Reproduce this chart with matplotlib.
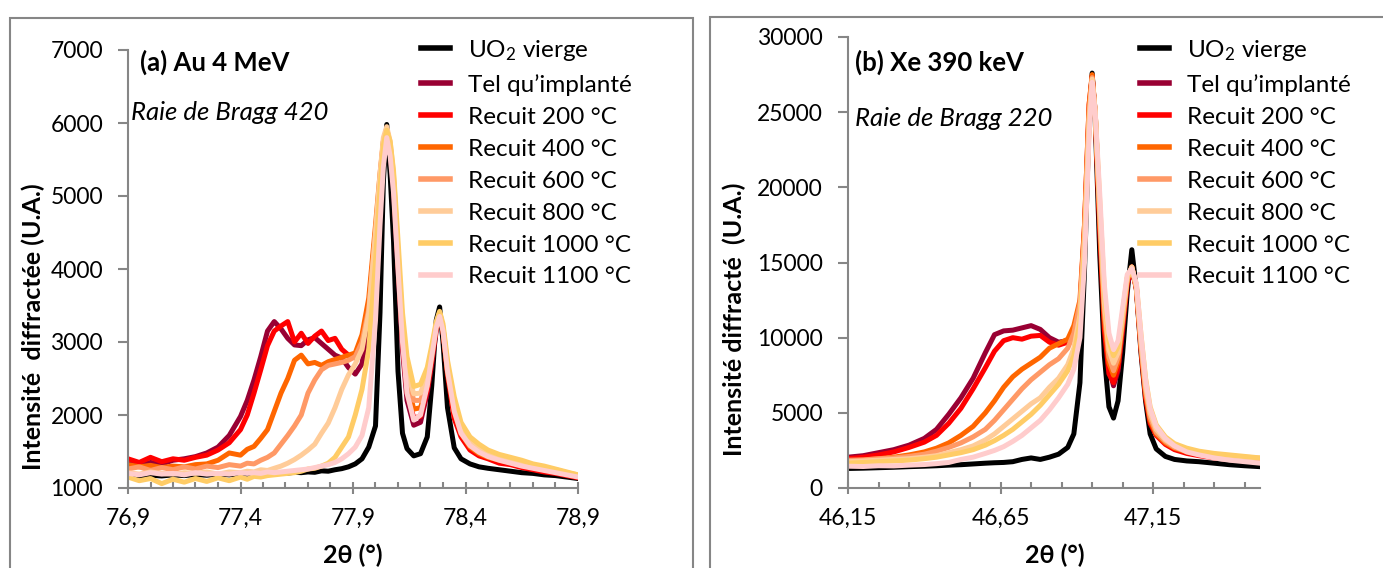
import matplotlib
matplotlib.use("Agg")
import matplotlib.pyplot as plt
from matplotlib.patches import Rectangle
import numpy as np

plt.rcParams["font.family"] = ["Lato", "DejaVu Sans"]
plt.rcParams["mathtext.fontset"] = "custom"
plt.rcParams["mathtext.rm"] = "Lato"
plt.rcParams["mathtext.it"] = "Lato:italic"

LABELS = ["UO$_2$ vierge", "Tel qu\u2019implanté", "Recuit 200 °C", "Recuit 400 °C",
          "Recuit 600 °C", "Recuit 800 °C", "Recuit 1000 °C", "Recuit 1100 °C"]
COLORS = ["#000000", "#990033", "#FF0000", "#FF6600",
          "#FF9966", "#FFCC99", "#FFCC66", "#FFCCCC"]
GREY = "#868686"

# ---- panel (a) : Au 4 MeV, raie 420 ----
theta_a = [76.90, 76.95, 77.00, 77.05, 77.10, 77.15, 77.20, 77.25, 77.30, 77.35,
           77.40, 77.43, 77.46, 77.49, 77.52, 77.55, 77.58, 77.61, 77.64, 77.67,
           77.70, 77.73, 77.76, 77.79, 77.82, 77.85, 77.88, 77.91, 77.94, 77.97,
           78.00, 78.02, 78.035, 78.05, 78.065, 78.08, 78.10, 78.12, 78.14, 78.17,
           78.20, 78.23, 78.25, 78.27, 78.285, 78.30, 78.32, 78.35, 78.38, 78.42,
           78.46, 78.50, 78.55, 78.60, 78.65, 78.70, 78.75, 78.80, 78.85, 78.90]

a_vierge = [1170, 1160, 1175, 1165, 1180, 1170, 1185, 1175, 1190, 1180,
            1195, 1190, 1200, 1195, 1205, 1200, 1210, 1205, 1215, 1210,
            1220, 1215, 1235, 1230, 1250, 1265, 1290, 1330, 1400, 1560,
            1850, 3400, 5200, 5980, 5300, 4400, 2600, 1750, 1540, 1440,
            1470, 1700, 2400, 3300, 3480, 3000, 2100, 1550, 1400, 1330,
            1290, 1270, 1250, 1230, 1210, 1200, 1180, 1170, 1150, 1130]
a_implante = [1330, 1310, 1350, 1330, 1380, 1400, 1430, 1480, 1560, 1720,
              1980, 2200, 2480, 2800, 3150, 3280, 3180, 3050, 2960, 2950,
              3030, 3060, 2980, 2900, 2820, 2780, 2650, 2560, 2700, 3300,
              4300, 5000, 5600, 5880, 5600, 5100, 4000, 2900, 2200, 1860,
              1900, 2300, 2700, 3150, 3350, 3150, 2600, 2000, 1750, 1580,
              1480, 1420, 1370, 1340, 1300, 1270, 1240, 1210, 1180, 1150]
a_r200 = [1400, 1350, 1420, 1360, 1400, 1380, 1420, 1450, 1520, 1620,
          1800, 2000, 2300, 2620, 2950, 3150, 3220, 3280, 3000, 3120,
          2980, 3080, 3150, 3020, 3050, 2900, 2820, 2780, 2900, 3500,
          4500, 5200, 5700, 5900, 5650, 5200, 4100, 3000, 2300, 1960,
          1980, 2350, 2750, 3200, 3380, 3150, 2550, 1950, 1700, 1520,
          1440, 1400, 1340, 1320, 1280, 1250, 1220, 1200, 1170, 1140]
a_r400 = [1320, 1290, 1310, 1280, 1300, 1290, 1320, 1330, 1380, 1480,
          1450, 1530, 1570, 1680, 1800, 2050, 2300, 2500, 2750, 2820,
          2700, 2720, 2680, 2730, 2760, 2790, 2820, 2850, 3100, 3600,
          4600, 5300, 5750, 5920, 5700, 5200, 4100, 3100, 2450, 2080,
          2100, 2400, 2800, 3200, 3380, 3150, 2600, 2050, 1750, 1560,
          1470, 1420, 1380, 1350, 1310, 1290, 1250, 1230, 1190, 1160]
a_r600 = [1260, 1290, 1240, 1280, 1250, 1290, 1260, 1300, 1280, 1320,
          1300, 1340, 1330, 1380, 1420, 1480, 1600, 1720, 1850, 2000,
          2300, 2480, 2620, 2680, 2700, 2720, 2750, 2800, 3000, 3450,
          4500, 5250, 5750, 5920, 5700, 5250, 4200, 3200, 2550, 2200,
          2200, 2450, 2850, 3250, 3400, 3200, 2650, 2100, 1800, 1620,
          1520, 1470, 1420, 1380, 1350, 1310, 1280, 1250, 1210, 1170]
a_r800 = [1210, 1190, 1220, 1200, 1190, 1210, 1200, 1220, 1190, 1220,
          1210, 1230, 1220, 1250, 1240, 1270, 1300, 1340, 1390, 1450,
          1520, 1600, 1750, 1890, 2100, 2350, 2550, 2700, 2900, 3400,
          4500, 5300, 5800, 5950, 5750, 5300, 4250, 3250, 2600, 2290,
          2300, 2550, 2900, 3250, 3400, 3200, 2700, 2150, 1850, 1650,
          1550, 1480, 1430, 1380, 1350, 1310, 1280, 1250, 1210, 1180]
a_r1000 = [1150, 1100, 1130, 1060, 1120, 1080, 1130, 1090, 1140, 1100,
           1150, 1120, 1160, 1150, 1170, 1180, 1190, 1200, 1210, 1230,
           1260, 1270, 1300, 1340, 1420, 1560, 1700, 2000, 2350, 2900,
           4100, 5100, 5700, 5900, 5750, 5350, 4400, 3400, 2800, 2390,
           2420, 2650, 2950, 3280, 3420, 3250, 2750, 2250, 1900, 1700,
           1600, 1520, 1460, 1420, 1380, 1330, 1300, 1260, 1220, 1180]
a_r1100 = [1200, 1180, 1210, 1190, 1200, 1180, 1210, 1190, 1200, 1190,
           1210, 1200, 1210, 1200, 1220, 1210, 1220, 1230, 1240, 1250,
           1260, 1280, 1300, 1320, 1350, 1400, 1470, 1560, 1720, 2100,
           3300, 4600, 5400, 5800, 5550, 5050, 4000, 3000, 2300, 1930,
           2000, 2400, 2800, 3200, 3350, 3150, 2600, 2050, 1750, 1580,
           1490, 1430, 1380, 1340, 1300, 1270, 1240, 1210, 1180, 1150]

# ---- panel (b) : Xe 390 keV, raie 220 ----
theta_b = [46.15, 46.20, 46.25, 46.30, 46.35, 46.40, 46.44, 46.48, 46.52, 46.56,
           46.60, 46.63, 46.66, 46.69, 46.72, 46.75, 46.78, 46.81, 46.84, 46.87,
           46.89, 46.91, 46.925, 46.94, 46.95, 46.96, 46.975, 46.99, 47.005, 47.02,
           47.035, 47.05, 47.065, 47.08, 47.095, 47.11, 47.125, 47.14, 47.16, 47.19,
           47.22, 47.26, 47.30, 47.35, 47.40, 47.45, 47.50]

b_vierge = [1300, 1320, 1350, 1380, 1420, 1450, 1480, 1520, 1550, 1600,
            1650, 1680, 1700, 1750, 1900, 2000, 1900, 2050, 2250, 2700,
            3600, 7000, 14500, 24500, 27600, 24500, 15500, 8800, 5400, 4650,
            5800, 9000, 13000, 15850, 13200, 9000, 5800, 3600, 2600, 2100,
            1900, 1800, 1750, 1650, 1550, 1480, 1420]
b_implante = [2050, 2150, 2350, 2550, 2850, 3300, 3900, 4900, 6000, 7300,
              9000, 10200, 10450, 10500, 10650, 10800, 10550, 10000, 9700, 9800,
              10400, 12000, 17000, 25000, 27400, 25000, 18000, 11500, 8000, 6800,
              7800, 10500, 13500, 14600, 13300, 9500, 6500, 4600, 3700, 3100,
              2700, 2400, 2200, 2050, 1950, 1850, 1800]
b_r200 = [1950, 2050, 2200, 2400, 2700, 3050, 3500, 4300, 5300, 6600,
          8000, 9100, 9800, 10000, 9900, 10100, 10150, 9700, 9500, 9700,
          10200, 12000, 17500, 25500, 27400, 24800, 17000, 10500, 7600, 7000,
          8000, 10800, 13700, 14700, 13200, 9200, 6000, 4300, 3500, 2900,
          2550, 2300, 2150, 2000, 1900, 1800, 1750]
b_r400 = [1800, 1850, 1950, 2050, 2200, 2400, 2650, 3000, 3500, 4100,
          5000, 5800, 6700, 7400, 7900, 8300, 8700, 9300, 9600, 9900,
          10800, 12500, 17500, 25500, 27500, 25000, 17800, 11300, 8300, 7500,
          8400, 11000, 13800, 14700, 13300, 9400, 6300, 4500, 3600, 3000,
          2650, 2400, 2250, 2100, 2000, 1900, 1850]
b_r600 = [1850, 1870, 1950, 2000, 2100, 2250, 2450, 2700, 3000, 3400,
          3900, 4500, 5200, 5900, 6600, 7200, 7700, 8200, 8600, 9300,
          10300, 12300, 17000, 25000, 27300, 25000, 18000, 11800, 8700, 7800,
          8700, 11200, 13900, 14700, 13300, 9500, 6500, 4700, 3700, 3100,
          2700, 2450, 2300, 2150, 2050, 1950, 1900]
b_r800 = [1750, 1800, 1850, 1900, 1950, 2050, 2150, 2350, 2550, 2800,
          3200, 3600, 4100, 4600, 5100, 5600, 6000, 6700, 7300, 8200,
          9300, 11500, 16500, 24500, 27200, 25000, 18500, 12300, 9200, 8300,
          9000, 11500, 14000, 14700, 13400, 9800, 6800, 5000, 3900, 3200,
          2800, 2550, 2400, 2250, 2150, 2050, 2000]
b_r1000 = [1650, 1700, 1750, 1800, 1850, 1950, 2050, 2200, 2350, 2550,
           2850, 3150, 3500, 3900, 4400, 4900, 5500, 6200, 6900, 7800,
           8800, 11000, 16000, 24000, 27000, 25000, 19000, 13000, 9800, 8800,
           9400, 11700, 14000, 14600, 13500, 10200, 7300, 5400, 4200, 3400,
           2950, 2650, 2450, 2300, 2200, 2100, 2000]
b_r1100 = [1450, 1430, 1480, 1470, 1520, 1560, 1620, 1700, 1900, 2050,
           2300, 2500, 2750, 3100, 3500, 4000, 4500, 5200, 6000, 6900,
           7900, 10000, 15000, 23500, 27000, 25000, 19500, 13500, 10300, 9200,
           9800, 12000, 14200, 14600, 13600, 10200, 7200, 5300, 4100, 3300,
           2800, 2400, 2200, 2000, 1850, 1750, 1650]


def fmt_comma(values, ndig):
    return [f"{v:.{ndig}f}".replace(".", ",") for v in values]


def draw_panel(ax, theta, series, xlim, xmajor, xminor, ndig, ylim, ystep):
    for y, color, label in zip(series, COLORS, LABELS):
        ax.plot(theta, y, color=color, lw=3.6, label=label, solid_joinstyle="round")

    ax.set_xlim(*xlim)
    ax.set_ylim(*ylim)
    ax.set_xticks(xmajor)
    ax.set_xticklabels(fmt_comma(xmajor, ndig))
    ax.set_xticks(xminor, minor=True)
    ax.set_yticks(np.arange(ylim[0], ylim[1] + 1, ystep))

    for side in ["top", "right"]:
        ax.spines[side].set_visible(False)
    for side in ["left", "bottom"]:
        ax.spines[side].set_color(GREY)
        ax.spines[side].set_linewidth(1.5)
    ax.tick_params(which="both", color=GREY, width=1.5,
                   labelsize=16.5, labelcolor="black")
    # Excel style: crossing major ticks, inner minor ticks on the x axis
    ax.tick_params(axis="x", which="major", direction="inout", length=8, pad=10)
    ax.tick_params(axis="x", which="minor", direction="in", length=4)
    ax.tick_params(axis="y", which="major", direction="out", length=7, pad=11)


fig = plt.figure(figsize=(13.83, 5.68), dpi=100)

# panel borders (Excel chart areas)
fig.add_artist(Rectangle((10 / 1383, -0.1), 683 / 1383, 1.1 - 18 / 568,
                         transform=fig.transFigure, fill=False, ec=GREY, lw=1.5))
fig.add_artist(Rectangle((710 / 1383, -0.1), 0.6, 1.1 - 17 / 568,
                         transform=fig.transFigure, fill=False, ec=GREY, lw=1.5))

ax_a = fig.add_axes([128 / 1383, 1 - 488 / 568, 450 / 1383, 438 / 568])
ax_b = fig.add_axes([848 / 1383, 1 - 488 / 568, 412 / 1383, 451 / 568])

draw_panel(ax_a, theta_a,
           [a_vierge, a_implante, a_r200, a_r400, a_r600, a_r800, a_r1000, a_r1100],
           (76.9, 78.9), [76.9, 77.4, 77.9, 78.4, 78.9],
           np.arange(76.9, 78.95, 0.1), 1, (1000, 7000), 1000)
draw_panel(ax_b, theta_b,
           [b_vierge, b_implante, b_r200, b_r400, b_r600, b_r800, b_r1000, b_r1100],
           (46.15, 47.5), [46.15, 46.65, 47.15],
           np.arange(46.15, 47.46, 0.1), 2, (0, 30000), 5000)

for ax, x0 in [(ax_a, 421), (ax_b, 1140)]:
    ax.legend(loc="upper left", bbox_to_anchor=(x0 / 1383, 1 - 38 / 568),
              bbox_transform=fig.transFigure, frameon=False, fontsize=17.5,
              handlelength=1.2, handletextpad=0.75, labelspacing=0.45,
              borderpad=0, borderaxespad=0)
    for line in ax.get_legend().get_lines():
        line.set_linewidth(4.0)

fig.text(140 / 1383, 1 - 62 / 568, "(a) Au 4 MeV", fontsize=18.5, fontweight="bold",
         va="center", ha="left")
fig.text(131 / 1383, 1 - 112 / 568, "Raie de Bragg 420", fontsize=18.5, style="italic",
         va="center", ha="left")
fig.text(855 / 1383, 1 - 62 / 568, "(b) Xe 390 keV", fontsize=18.5, fontweight="bold",
         va="center", ha="left")
fig.text(855 / 1383, 1 - 118 / 568, "Raie de Bragg 220", fontsize=18.5, style="italic",
         va="center", ha="left")

fig.text(33 / 1383, 1 - 327 / 568, "Intensité  diffractée (U.A.)", fontsize=18,
         fontweight="bold", rotation=90, va="center", ha="center")
fig.text(734 / 1383, 1 - 319 / 568, "Intensité diffracté  (U.A.)", fontsize=18,
         fontweight="bold", rotation=90, va="center", ha="center")
fig.text(353 / 1383, 1 - 555 / 568, "2θ (°)", fontsize=18, fontweight="bold",
         va="center", ha="center")
fig.text(1055 / 1383, 1 - 555 / 568, "2θ (°)", fontsize=18, fontweight="bold",
         va="center", ha="center")

fig.savefig("out.png", dpi=100)
